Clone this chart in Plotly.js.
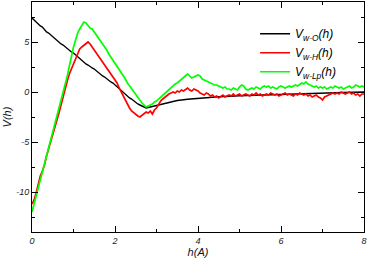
<!DOCTYPE html>
<html>
<head>
<meta charset="utf-8">
<script src="https://cdn.plot.ly/plotly-3.0.1.min.js"></script>
<style>html,body{margin:0;padding:0;background:#fff}#chart{width:367px;height:258px}</style>
</head>
<body>
<div id="chart"></div>
<script>
// Sampling grid step for the noisy series (h from 0 to 8)
const H_STEP = 0.05;
const H_COUNT = 161;

// V_w-Lp(h), every 0.05
const greenV = [
-12.0,-11.2,-10.3,-9.6,-8.7,-8.1,-7.2,-6.5,-5.6,-5.0,
-4.2,-3.3,-2.6,-1.7,-0.9,-0.1,0.8,1.6,2.6,3.6,
4.5,5.2,5.9,6.3,6.7,7.0,6.9,6.6,6.4,6.3,
6.0,5.8,5.5,5.1,4.8,4.5,4.2,3.8,3.5,3.1,
2.9,2.6,2.3,2.0,1.6,1.3,0.9,0.6,0.3,0.0,
-0.3,-0.6,-0.9,-1.1,-1.3,-1.5,-1.4,-1.3,-1.2,-1.0,
-0.9,-0.7,-0.5,-0.4,-0.2,0.0,0.3,0.4,0.6,0.8,
0.9,1.1,1.3,1.5,1.7,1.8,1.6,1.4,1.5,1.6,
1.7,1.6,1.3,1.2,1.1,1.0,0.9,0.8,0.7,0.7,
0.6,0.5,0.4,0.5,0.3,0.3,0.2,0.4,0.3,0.2,
0.5,0.7,0.6,0.3,0.2,0.3,0.4,0.3,0.5,0.4,
0.3,0.5,0.6,0.5,0.6,0.4,0.5,0.4,0.3,0.5,
0.6,0.5,0.4,0.5,0.6,0.5,0.6,0.7,0.6,0.8,
0.9,0.8,1.0,0.8,0.7,0.6,0.5,0.6,0.4,0.5,
0.4,0.5,0.3,0.4,0.5,0.4,0.6,0.5,0.4,0.5,
0.3,0.4,0.5,0.6,0.4,0.5,0.7,0.6,0.5,0.6,
0.5];

// V_w-H(h), every 0.05
const redV = [
-11.2,-10.8,-10.1,-9.3,-8.4,-7.9,-7.3,-6.4,-5.7,-5.1,
-4.3,-3.7,-2.9,-2.1,-1.3,-0.4,0.5,1.1,1.8,2.3,
2.8,3.4,3.9,4.3,4.5,4.7,4.9,5.0,4.8,4.5,
4.2,3.9,3.6,3.4,3.0,2.7,2.4,2.1,1.8,1.6,
1.3,0.9,0.4,0.0,-0.4,-0.9,-1.3,-1.6,-1.9,-2.1,
-2.3,-2.4,-2.5,-2.3,-2.2,-2.0,-2.1,-1.9,-2.2,-1.8,
-1.6,-1.2,-0.9,-0.7,-0.5,-0.3,-0.2,-0.1,0.0,-0.1,
0.1,0.0,0.2,0.1,0.3,0.4,0.2,0.1,0.3,0.2,
0.1,-0.1,-0.2,-0.3,-0.1,-0.2,-0.4,-0.3,-0.5,-0.4,
-0.6,-0.4,-0.3,-0.5,-0.4,-0.3,-0.4,-0.2,-0.4,-0.3,
-0.2,-0.4,-0.3,-0.2,-0.3,-0.4,-0.2,-0.3,-0.1,-0.3,
-0.2,-0.4,-0.3,-0.2,-0.3,-0.1,-0.2,-0.3,-0.2,-0.4,
-0.3,-0.2,-0.1,-0.3,-0.2,-0.3,-0.4,-0.2,-0.3,-0.1,
-0.2,-0.3,-0.2,-0.4,-0.3,-0.5,-0.4,-0.3,-0.5,-0.6,
-0.8,-0.5,-0.4,-0.3,-0.2,-0.1,-0.2,-0.1,-0.2,0.0,
-0.1,-0.2,-0.1,0.0,-0.2,-0.1,-0.3,-0.2,-0.4,-0.2,
-0.2];

// V_w-O(h): noisy part every 0.05 from 0 to 2.80, then smooth tail
const blackHeadV = [
7.4,7.2,6.9,6.8,6.6,6.5,6.2,6.0,5.9,5.7,
5.5,5.4,5.1,5.0,4.8,4.7,4.5,4.3,4.2,4.0,
3.9,3.7,3.5,3.3,3.1,2.9,2.8,2.7,2.5,2.4,
2.3,2.1,1.9,1.8,1.6,1.5,1.3,1.2,1.0,0.9,
0.7,0.6,0.4,0.2,0.0,-0.2,-0.4,-0.6,-0.7,-0.9,
-1.0,-1.2,-1.3,-1.4,-1.5,-1.6,-1.55];
const blackTailH = [2.9,3.0,3.1,3.25,3.5,3.75,4.0,4.5,5.0,5.5,6.0,6.5,7.0,7.5,8.0];
const blackTailV = [-1.45,-1.3,-1.18,-1.03,-0.85,-0.72,-0.62,-0.48,-0.38,-0.3,-0.22,-0.15,-0.1,-0.05,0.0];

const seriesNames = ['V<sub>w-O</sub>(h)','V<sub>w-H</sub>(h)','V<sub>w-Lp</sub>(h)'];
const seriesColors = ['#000000','#ff0000','#00ff00'];

const xTickVals = [0,2,4,6,8];
const xTickText = ['0','2','4','6','8'];
const yTickVals = [-10,-5,0,5];
const yTickText = ['-10','-5','0','5'];

const grid = [];
for (let i = 0; i < H_COUNT; i++) grid.push(Math.round(i*H_STEP*100)/100);

const blackH = grid.slice(0, blackHeadV.length).concat(blackTailH);
const blackV = blackHeadV.concat(blackTailV);

const traces = [
  {x: blackH, y: blackV, name: seriesNames[0], mode:'lines', line:{color:seriesColors[0], width:1.4}},
  {x: grid, y: redV, name: seriesNames[1], mode:'lines', line:{color:seriesColors[1], width:1.7}},
  {x: grid, y: greenV, name: seriesNames[2], mode:'lines', line:{color:seriesColors[2], width:1.7}}
];

const tickFont = {family:'Liberation Sans, Arial, sans-serif', size:9, color:'#222', style:'italic'};
const titleFont = {family:'Liberation Sans, Arial, sans-serif', size:11, color:'#111', style:'italic'};

const layout = {
  width:367, height:258,
  margin:{l:32, r:3, t:2, b:26, pad:0},
  paper_bgcolor:'#fff', plot_bgcolor:'#fff',
  showlegend:true,
  legend:{x:0.672, y:0.925, xanchor:'left', yanchor:'top', bgcolor:'rgba(0,0,0,0)',
          font:{family:'Liberation Sans, Arial, sans-serif', size:12, color:'#000', style:'italic'},
          tracegroupgap:0},
  xaxis:{range:[0,8], tickmode:'array', tickvals:xTickVals, ticktext:xTickText,
         ticks:'inside', ticklen:6, tickwidth:1, tickcolor:'#000',
         showline:true, linecolor:'#000', linewidth:1, mirror:'ticks',
         showgrid:false, zeroline:false, tickfont:tickFont,
         minor:{tickmode:'linear', tick0:0, dtick:1, ticks:'inside', ticklen:3, tickcolor:'#000', showgrid:false},
         title:{text:'h(A)', font:titleFont, standoff:4}},
  yaxis:{range:[-14,9], tickmode:'array', tickvals:yTickVals, ticktext:yTickText,
         ticks:'inside', ticklen:6, tickwidth:1, tickcolor:'#000',
         showline:true, linecolor:'#000', linewidth:1, mirror:'ticks',
         showgrid:false, zeroline:false, tickfont:tickFont,
         minor:{tickmode:'linear', tick0:0, dtick:2.5, ticks:'inside', ticklen:3, tickcolor:'#000', showgrid:false},
         title:{text:'V(h)', font:titleFont, standoff:2}}
};

Plotly.newPlot('chart', traces, layout, {displayModeBar:false, staticPlot:true});
</script>
</body>
</html>
